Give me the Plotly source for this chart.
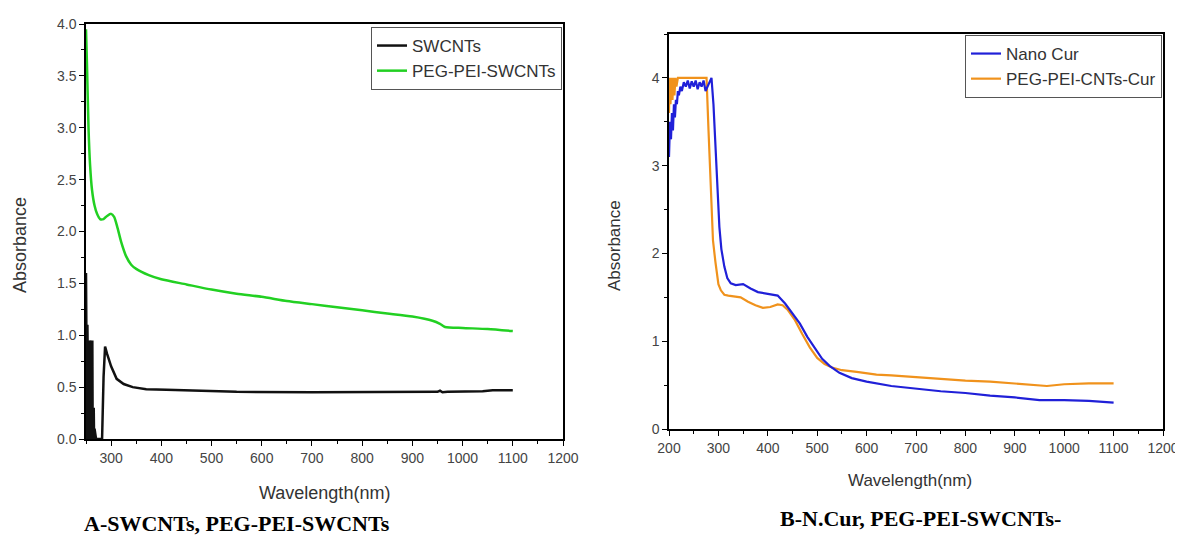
import plotly.graph_objects as go

# ---------------- Panel A data ----------------
sw_x = [250, 250.7, 251.4, 252.1, 252.8, 253.5, 254.2, 254.9, 255.6, 256.3, 257.0, 257.7, 258.4, 259.1,
        259.8, 260.5, 261.2, 261.9, 262.6, 263.3, 264.0, 264.7, 265.4, 266.1, 267, 270, 282,
        285, 288, 292, 300, 311, 325, 343, 370, 410, 477, 550, 700, 850, 900, 930, 950, 955,
        960, 970, 1000, 1040, 1060, 1100]
sw_y = [1.6, 0.05, 1.25, 0.0, 1.1, 0.1, 0.9, 0.0, 0.95, 0.15, 0.8, 0.0, 0.9, 0.05,
        0.95, 0.0, 0.85, 0.1, 0.95, 0.0, 0.6, 0.05, 0.3, 0.0, 0.1, 0.0, 0.0,
        0.6, 0.89, 0.82, 0.7, 0.58, 0.53, 0.5, 0.48, 0.475, 0.465, 0.455, 0.45, 0.45, 0.455, 0.45, 0.455,
        0.465, 0.45, 0.455, 0.455, 0.46, 0.47, 0.47]

pg_x = [250, 252, 255, 258, 262, 267, 272, 278, 285, 292, 300, 306, 312, 320, 330, 340, 350, 375, 400,
        450, 500, 550, 600, 650, 700, 750, 800, 850, 900, 940, 955, 965, 1000, 1050, 1100]
pg_y = [3.95, 3.6, 3.0, 2.65, 2.4, 2.25, 2.17, 2.12, 2.12, 2.15, 2.17, 2.14, 2.05, 1.9, 1.76, 1.68, 1.64,
        1.58, 1.54, 1.49, 1.44, 1.40, 1.37, 1.33, 1.30, 1.27, 1.24, 1.21, 1.18, 1.14, 1.11, 1.08, 1.07,
        1.06, 1.04]

# ---------------- Panel B data ----------------
nc_x = [200, 202, 204, 206, 208, 210, 212, 214, 216, 218, 220, 223, 226, 230, 234, 238, 242, 246, 250,
        254, 258, 262, 266, 270, 274, 278, 282, 286, 290, 296, 302, 306, 312, 318, 325, 335, 350, 365,
        380, 400, 420, 435, 450, 465, 480, 495, 510, 525, 545, 570, 600, 650, 700, 750, 800, 850, 900,
        950, 970, 1000, 1050, 1100]
nc_y = [3.1, 3.5, 3.3, 3.6, 3.4, 3.7, 3.55, 3.75, 3.7, 3.85, 3.8, 3.9, 3.85, 3.95, 3.9, 3.97, 3.88, 3.96,
        3.9, 3.97, 3.87, 3.95, 3.9, 3.97, 3.85, 3.9, 3.97, 4.0, 3.7, 3.0, 2.3, 2.05, 1.85, 1.72, 1.66,
        1.64, 1.65, 1.6, 1.56, 1.54, 1.52, 1.43, 1.32, 1.2, 1.05, 0.92, 0.8, 0.72, 0.64, 0.58, 0.54,
        0.49, 0.46, 0.43, 0.41, 0.38, 0.36, 0.33, 0.33, 0.33, 0.32, 0.30]

pc_x = [200, 201, 203, 205, 207, 209, 211, 213, 215, 218, 222, 230, 250, 270, 276, 280, 285, 289, 294,
        300, 305, 312, 320, 330, 345, 360, 375, 390, 405, 420, 430, 440, 455, 470, 485, 500, 515, 530,
        550, 580, 620, 650, 700, 750, 800, 850, 900, 950, 965, 1000, 1050, 1100]
pc_y = [3.6, 4.0, 3.7, 4.0, 3.75, 4.0, 3.8, 4.0, 3.9, 4.0, 4.0, 4.0, 4.0, 4.0, 4.0, 3.4, 2.6, 2.15, 1.9,
        1.65, 1.58, 1.53, 1.52, 1.51, 1.5, 1.45, 1.41, 1.38, 1.39, 1.42, 1.41, 1.36, 1.24, 1.08, 0.93,
        0.81, 0.74, 0.70, 0.67, 0.65, 0.62, 0.61, 0.59, 0.57, 0.55, 0.54, 0.52, 0.5, 0.49, 0.51, 0.52,
        0.52]

AX_FONT = "Liberation Sans, Arial, sans-serif"
TICK_COLOR = "#444444"

fig = go.Figure()

fig.add_trace(go.Scatter(x=pg_x, y=pg_y, mode="lines", name="PEG-PEI-SWCNTs",
                         line=dict(color="#22d022", width=2.5, shape="spline", smoothing=0.6),
                         xaxis="x", yaxis="y", legend="legend", legendrank=2))
fig.add_trace(go.Scatter(x=sw_x, y=sw_y, mode="lines", name="SWCNTs",
                         line=dict(color="#111111", width=2.5),
                         xaxis="x", yaxis="y", legend="legend", legendrank=1))

fig.add_trace(go.Scatter(x=pc_x, y=pc_y, mode="lines", name="PEG-PEI-CNTs-Cur",
                         line=dict(color="#f0921c", width=2.2),
                         xaxis="x2", yaxis="y2", legend="legend2", legendrank=2))
fig.add_trace(go.Scatter(x=nc_x, y=nc_y, mode="lines", name="Nano Cur",
                         line=dict(color="#2020d8", width=2.2),
                         xaxis="x2", yaxis="y2", legend="legend2", legendrank=1))

# page body has an 8px default margin; the figure fills the rest of the window
OFF = 8
W, H = 1183 - OFF, 545 - OFF
def px(xp):
    return (xp - OFF) / W
def py(yp):
    return 1 - (yp - OFF) / H

common_axis = dict(showline=True, linecolor="black", linewidth=1.5, mirror=True,
                   ticks="outside", ticklen=5, tickwidth=1.2, tickcolor="black",
                   showgrid=False, zeroline=False, automargin=False,
                   ticklabeloverflow="allow",
                   tickfont=dict(family=AX_FONT, size=14, color=TICK_COLOR))

fig.update_layout(
    width=W, height=H,
    margin=dict(l=0, r=0, t=0, b=0, autoexpand=False),
    paper_bgcolor="white", plot_bgcolor="white",
    xaxis=dict(domain=[px(86), px(563)], range=[250, 1200], tick0=0, dtick=100,
               minor=dict(dtick=50, tick0=0, ticks="outside", ticklen=3, tickcolor="black"),
               anchor="y", **common_axis),
    yaxis=dict(domain=[py(439), py(24)], range=[0, 4.0], dtick=0.5, tickformat=".1f",
               minor=dict(dtick=0.25, ticks="outside", ticklen=3, tickcolor="black"),
               anchor="x", **common_axis),
    xaxis2=dict(domain=[px(669), px(1163)], range=[200, 1200], tick0=0, dtick=100,
                minor=dict(dtick=50, tick0=0, ticks="outside", ticklen=3, tickcolor="black"),
                anchor="y2", **common_axis),
    yaxis2=dict(domain=[py(429), py(34)], range=[0, 4.5], dtick=1,
                minor=dict(dtick=0.5, ticks="outside", ticklen=3, tickcolor="black"),
                anchor="x2", **common_axis),
    legend=dict(x=px(562), y=py(27), xanchor="right", yanchor="top",
                bgcolor="white", bordercolor="#555555", borderwidth=1,
                font=dict(family=AX_FONT, size=17, color="#333333"),
                tracegroupgap=0, itemwidth=30),
    legend2=dict(x=px(1162), y=py(35), xanchor="right", yanchor="top",
                 bgcolor="white", bordercolor="#555555", borderwidth=1,
                 font=dict(family=AX_FONT, size=17, color="#333333"),
                 tracegroupgap=0, itemwidth=30),
    showlegend=True,
)

ann = [
    dict(text="Absorbance", x=px(20), y=py(245), textangle=-90, size=18),
    dict(text="Wavelength(nm)", x=px(324), y=py(493), textangle=0, size=18),
    dict(text="Absorbance", x=px(615), y=py(245), textangle=-90, size=17),
    dict(text="Wavelength(nm)", x=px(910), y=py(480), textangle=0, size=17),
]
for a in ann:
    s = a.pop("size")
    fig.add_annotation(xref="paper", yref="paper", showarrow=False,
                       font=dict(family=AX_FONT, size=s, color="#333333"),
                       xanchor="center", yanchor="middle", **a)

fig.add_annotation(text="<b>A-SWCNTs, PEG-PEI-SWCNTs</b>", xref="paper", yref="paper",
                   x=px(237), y=py(523), showarrow=False, xanchor="center", yanchor="middle",
                   font=dict(family="Liberation Serif, Times New Roman, serif", size=22, color="black"))
fig.add_annotation(text="<b>B-N.Cur, PEG-PEI-SWCNTs-</b>", xref="paper", yref="paper",
                   x=px(920), y=py(518), showarrow=False, xanchor="center", yanchor="middle",
                   font=dict(family="Liberation Serif, Times New Roman, serif", size=22, color="black"))

fig.write_html("out.html")
